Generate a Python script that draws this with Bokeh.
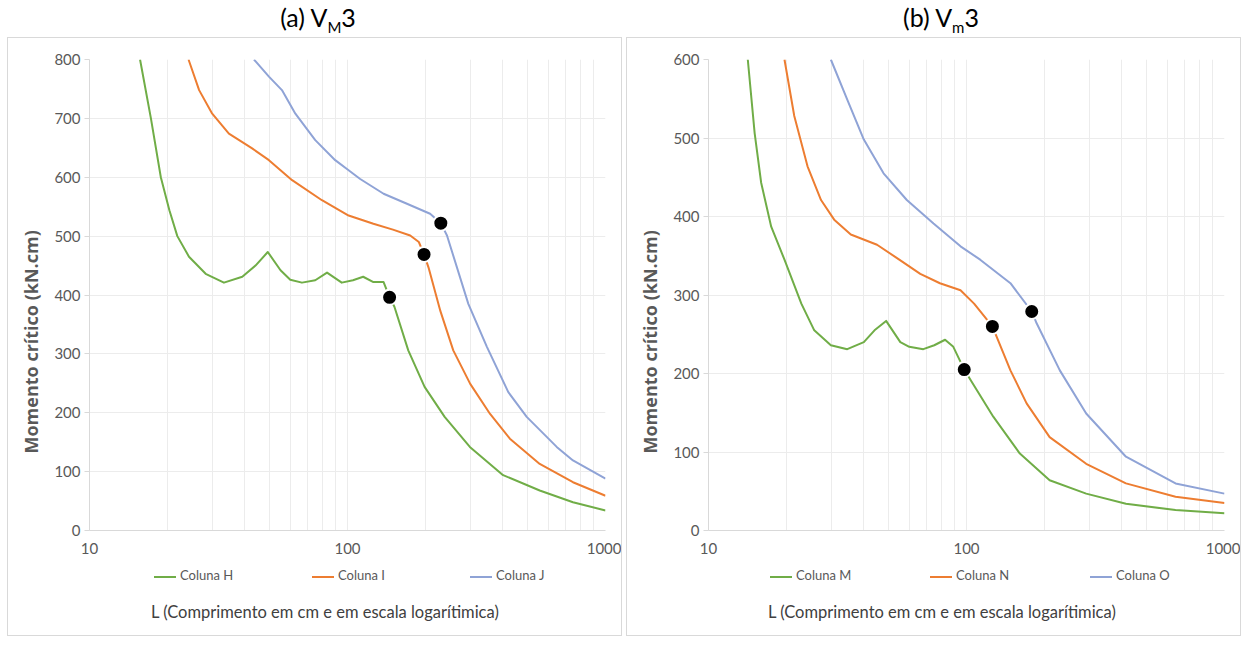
from bokeh.plotting import figure
from bokeh.models import FixedTicker, Title, Div, Range1d, PrintfTickFormatter
from bokeh.layouts import row, column
from bokeh.embed import file_html
from bokeh.resources import INLINE

# ---------------- data: panel (a) ----------------
H_L = [15.7, 17.3, 18.9, 20.4, 21.9, 24.3, 28.2, 33.2, 39.1, 44, 49.1, 55, 60, 66.6, 75, 83.3,
       95, 105, 115, 126, 138, 145.6, 152, 172, 199, 238, 298, 401, 556, 748, 1000]
H_M = [800, 700, 600, 544, 500, 465, 436, 421, 431, 450, 473, 442, 426, 421, 425, 438,
       421, 425, 431, 422, 422, 396, 380, 306, 244, 193, 142, 94, 68, 48, 34]

I_L = [24.2, 26.6, 29.9, 34.7, 42.7, 49.6, 61, 79.6, 101, 126, 150, 175, 189, 198, 206, 229,
       257, 299, 357, 426, 556, 748, 1000]
I_M = [800, 748, 708, 674, 649, 629, 595, 561, 535, 521, 511, 501, 490, 469, 447, 373,
       306, 249, 198, 156, 113, 82, 59]

J_L = [43.4, 49.6, 55.7, 62.8, 75, 89.6, 101, 112, 138, 170, 209, 230, 243, 294, 347, 420,
       495, 647, 748, 1000]
J_M = [800, 771, 748, 708, 663, 629, 612, 597, 572, 555, 538, 522, 501, 385, 312, 235,
       193, 142, 119, 88]

DOT_A_L = [145.6, 198, 230]
DOT_A_M = [396, 469, 522]

# ---------------- data: panel (b) ----------------
M_L = [14.2, 15.1, 16.0, 17.5, 19.7, 22.9, 25.7, 29.8, 34.5, 40, 44, 48.8, 55.4, 60, 68, 75,
       82.6, 88.9, 98, 104, 127, 161, 210, 291, 415, 646, 1000]
M_M = [600, 506, 443, 387, 345, 289, 255, 236, 231, 240, 255, 267, 240, 234, 231, 236,
       243, 234, 205, 191, 145, 98, 64, 47, 34, 26, 22]

N_L = [19.7, 21.5, 24.2, 27.3, 30.7, 35.6, 45, 53.8, 66.2, 78.9, 94.8, 107, 126, 148, 171,
       210, 291, 415, 646, 1000]
N_M = [600, 528, 464, 421, 396, 377, 364, 347, 327, 315, 306, 289, 260, 204, 162,
       119, 85, 60, 43, 35]

O_L = [29.8, 34.5, 40, 47.7, 58.7, 74.5, 94.8, 113, 148, 179, 187, 230, 291, 415, 646, 1000]
O_M = [600, 549, 498, 455, 421, 391, 362, 345, 315, 279, 264, 204, 149, 94, 60, 47]

DOT_B_L = [98, 126, 179]
DOT_B_M = [205, 260, 279]

X_MAJOR = [10, 100, 1000]
X_MINOR = [20, 30, 40, 50, 60, 70, 80, 90, 200, 300, 400, 500, 600, 700, 800, 900]

TITLE_A = "(a) V<sub style='font-size:15px'>M</sub>3"
TITLE_B = "(b) V<sub style='font-size:15px'>m</sub>3"
Y_LABEL = "Momento crítico (kN.cm)"
X_LABEL = "L (Comprimento em cm e em escala logarítimica)"
NAMES_A = ["Coluna H", "Coluna I", "Coluna J"]
NAMES_B = ["Coluna M", "Coluna N", "Coluna O"]

COLORS = ["#70AD47", "#ED7D31", "#8FA3D6"]
GRID = "#ececec"
AXIS = "#d9d9d9"
TXT = "#595959"


def panel(series, dots, ymax):
    p = figure(frame_width=516, frame_height=471, x_axis_type="log",
               x_range=Range1d(10, 1000), y_range=Range1d(0, ymax),
               output_backend="svg", toolbar_location=None,
               min_border_left=80, min_border_right=16,
               min_border_top=21, min_border_bottom=30)
    p.outline_line_color = None
    p.background_fill_color = "white"
    p.border_fill_color = "white"

    p.xaxis.ticker = FixedTicker(ticks=X_MAJOR, minor_ticks=X_MINOR)
    p.xaxis.formatter = PrintfTickFormatter(format="%d")
    p.yaxis.ticker = FixedTicker(ticks=list(range(0, ymax + 1, 100)))
    for ax in (p.xaxis, p.yaxis):
        ax.axis_line_color = AXIS
        ax.major_tick_line_color = AXIS
        ax.minor_tick_line_color = None
        ax.major_label_text_font = "Lato"
        ax.major_label_text_font_size = "15px"
        ax.major_label_text_color = TXT
    p.xaxis.major_tick_out = 0
    p.xaxis.major_tick_in = 0
    p.xaxis.major_label_standoff = 8
    p.yaxis.major_tick_out = 5
    p.yaxis.major_tick_in = 0
    p.yaxis.major_label_standoff = 4

    p.xgrid.grid_line_color = GRID
    p.xgrid.minor_grid_line_color = GRID
    p.ygrid.grid_line_color = GRID

    for (xs, ys), c in zip(series, COLORS):
        p.line(xs, ys, line_color=c, line_width=2, line_join="round")
    p.scatter(dots[0], dots[1], size=15, fill_color="black", line_color="white", line_width=2)

    ylab = Title(text=Y_LABEL, align="left", offset=77, standoff=17,
                 text_font="Open Sans", text_font_style="bold", text_font_size="18px",
                 text_color=TXT)
    p.add_layout(ylab, "left")
    return p


def head(txt, w, indent):
    return Div(text=txt, width=w, height=30, margin=(0, 0, 0, 0),
               styles={"text-align": "center", "font-family": "Lato",
                       "font-size": "25px", "color": "#000000", "line-height": "18px",
                       "text-indent": f"{indent}px", "width": f"{w}px"})


def legend_div(names, w, pad, step):
    items = "".join(
        f"<span style='display:inline-block;width:{step}px'>"
        f"<span style='display:inline-block;width:22px;height:2px;background:{c};"
        f"vertical-align:middle;margin-right:4px'></span>{n}</span>"
        for n, c in zip(names, COLORS))
    html = (f"<div style='padding-left:{pad}px;font-family:Lato;font-size:13px;"
            f"color:{TXT};line-height:30px;white-space:nowrap'>{items}</div>")
    return Div(text=html, width=w, height=30, margin=(0, 0, 0, 0))


def xlabel_div(w, pad):
    html = (f"<div style='padding-left:{pad}px;padding-top:12px;font-family:Lato;"
            f"font-size:16.5px;color:#404040;line-height:20px;white-space:nowrap'>{X_LABEL}</div>")
    return Div(text=html, width=w, height=45, margin=(0, 0, 0, 0))


pa = panel([(H_L, H_M), (I_L, I_M), (J_L, J_M)], (DOT_A_L, DOT_A_M), 800)
pb = panel([(M_L, M_M), (N_L, N_M), (O_L, O_M)], (DOT_B_L, DOT_B_M), 600)

box = {"outline": f"1px solid {AXIS}"}
left = column(head(TITLE_A, 612, 8),
              column(pa, legend_div(NAMES_A, 612, 146, 158), xlabel_div(612, 143),
                     spacing=0, styles=box),
              spacing=0)
right = column(head(TITLE_B, 612, 16),
               column(pb, legend_div(NAMES_B, 612, 143, 160), xlabel_div(612, 141),
                      spacing=0, styles=box),
               spacing=0)
layout = row(left, right, spacing=6, margin=(8, 0, 0, 8))

open("out.html", "w").write(file_html(layout, INLINE))
